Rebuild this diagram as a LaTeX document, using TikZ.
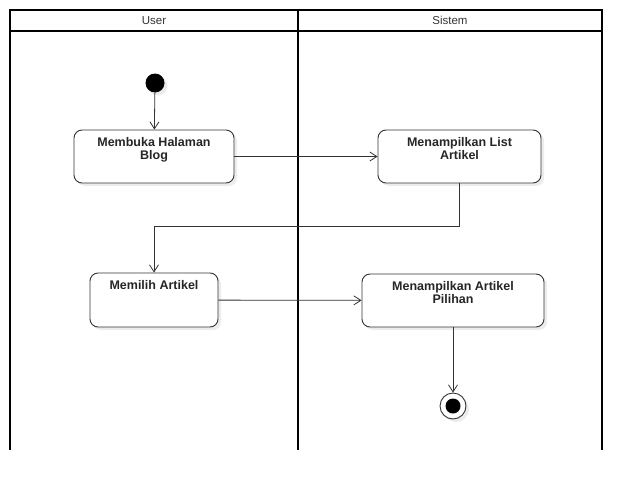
\documentclass[tikz,border=0pt]{standalone}
\usepackage{fontspec}
\setmainfont{Liberation Sans}
\usetikzlibrary{arrows.meta}
\usetikzlibrary{positioning}
\usetikzlibrary{shadows}

\definecolor{lineclr}{HTML}{333333}
\tikzset{
  act/.style={draw=lineclr, fill=white, line width=0.9pt, rounded corners=8pt, inner sep=0pt,
    drop shadow={opacity=0.15, shadow xshift=3pt, shadow yshift=-3pt}},
  acttext/.style={inner sep=0pt, align=center, text=black!85,
    font=\fontsize{12.5}{13}\selectfont\bfseries},
  flow/.style={draw=lineclr, line width=0.8pt, -{Straight Barb[length=7pt,width=9pt]}},
  lane/.style={draw=black, line width=1.6pt},
  lanetitle/.style={inner sep=0pt, text=lineclr, font=\fontsize{11.5}{13}\selectfont}
}

\begin{document}
\begin{tikzpicture}[x=1pt, y=-1pt]
\useasboundingbox (0,0) rectangle (642,490);

% swimlanes
\draw[lane] (10,450) |- (602,10) -- (602,450);
\draw[lane] (10,31) -- (602,31);
\draw[lane] (298,10) -- (298,450);
\node[lanetitle] (user) at (154,20.5) {User};
\node[lanetitle] (sistem) at (450,20.5) {Sistem};

% activities
\node[circle, fill=black, minimum size=19pt, inner sep=0pt,
  drop shadow={opacity=0.15, shadow xshift=3pt, shadow yshift=-3pt}] (start) at (155,83) {};
\node[act, minimum width=160pt, minimum height=53pt] (blog) at (154,156.5) {};
\node[acttext, below=7.5pt of blog.north] (blog-t) {Membuka Halaman\\Blog};
\node[act, minimum width=163pt, minimum height=53pt] (list) at (459.5,156.5) {};
\node[acttext, below=7.5pt of list.north] (list-t) {Menampilkan List\\Artikel};
\node[act, minimum width=128pt, minimum height=54pt] (pilih) at (154,300) {};
\node[acttext, below=7.5pt of pilih.north] (pilih-t) {Memilih Artikel};
\node[act, minimum width=182pt, minimum height=53pt] (tampil) at (453,300.5) {};
\node[acttext, below=7.5pt of tampil.north] (tampil-t) {Menampilkan Artikel\\Pilihan};
\node[circle, draw=lineclr, line width=0.9pt, fill=white, minimum size=26pt, inner sep=0pt,
  drop shadow={opacity=0.15, shadow xshift=3pt, shadow yshift=-3pt}] (stop) at (453,406) {};
\node[circle, fill=black, minimum size=15pt, inner sep=0pt] (stop-in) at (stop) {};

% flows
\draw[flow] (start) -- (blog);
\draw[flow] (blog) -- (list);
\draw[flow] (list.south) -- ++(0,43) -| (pilih.north);
\draw[flow] (pilih) -- (tampil);
\draw[flow] (tampil) -- (stop);
\end{tikzpicture}
\end{document}
